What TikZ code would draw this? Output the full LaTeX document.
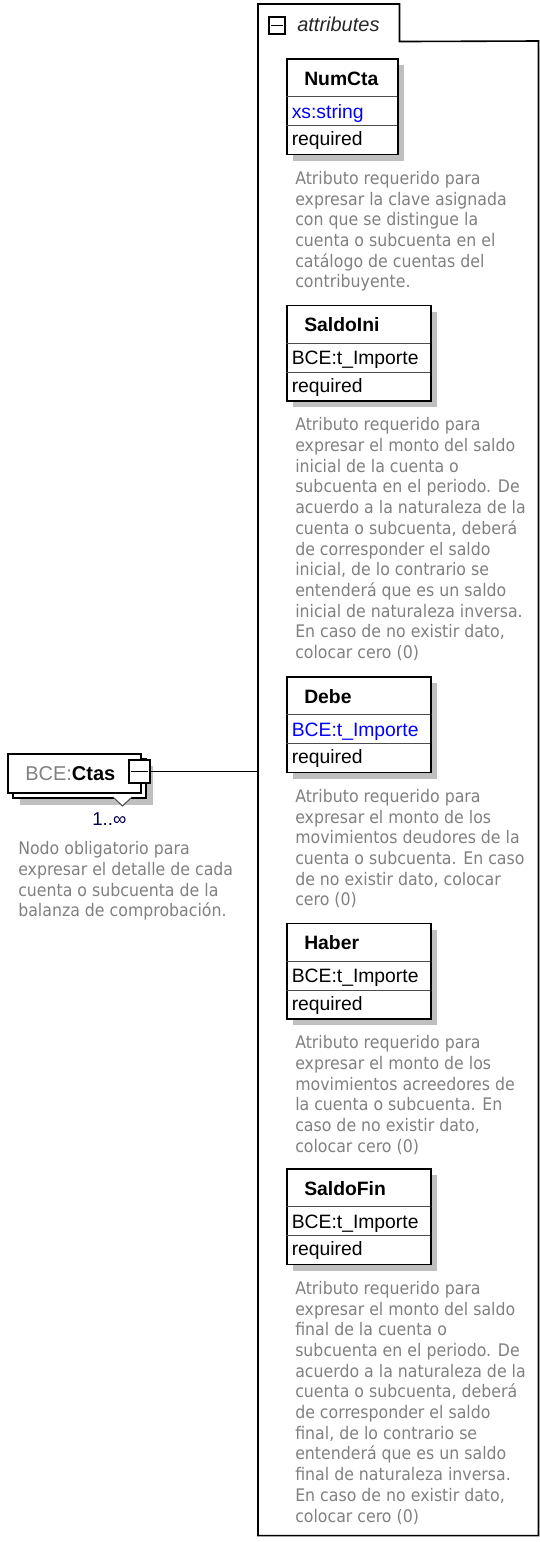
\documentclass[tikz,border=0pt]{standalone}
\usepackage{fontspec}
\setmainfont{Liberation Sans}
\newfontfamily\mdescfont[FakeStretch=0.91]{DejaVu Sans}
\def\mboxx{286}
\def\mshadow{7}
\def\mdesccolor{black!50}
\def\mshadowcolor{black!25}
\def\mtypecolor{blue}
\def\mmultcolor{blue!30!black}
\usetikzlibrary{calc}
\tikzset{
  boxframe/.style={draw=black, line width=1.2pt, fill=white, inner sep=0pt},
  groupline/.style={draw=black, line width=1.2pt},
  divider/.style={draw=black!70, line width=0.75pt},
  togglebox/.style={draw=black, line width=1.3pt, fill=white, inner sep=0pt},
  attrtitle/.style={font=\fontsize{14.5}{17}\selectfont\bfseries, inner sep=0pt, anchor=base west},
  attrcell/.style={font=\fontsize{14.5}{17}\selectfont, inner sep=0pt, anchor=base west},
  attrdesc/.style={font=\mdescfont\fontsize{13}{15.525}\selectfont, text=\mdesccolor, align=left, inner sep=0pt, anchor=north west},
}
% one attribute box: name, top, width, title, type, type colour
\def\mattrbox#1#2#3#4#5#6{%
  \fill[\mshadowcolor] (\mboxx+\mshadow,#2+\mshadow) rectangle ++(#3,95.5);
  \node[boxframe, anchor=north west, minimum width={#3*0.75pt}, minimum height={95.5*0.75pt}] (#1) at (\mboxx,#2) {};
  \draw[divider] (#1.north west) ++(0,38.5) -- ++(#3,0);
  \draw[divider] (#1.north west) ++(0,67.5) -- ++(#3,0);
  \node[attrtitle] (#1-name) at (\mboxx+18,#2+27) {#4};
  \node[attrcell, text=#6] (#1-type) at (\mboxx+5.5,#2+60) {#5};
  \node[attrcell] (#1-use) at (\mboxx+5.5,#2+87.5) {required};
}

\begin{document}
\begin{tikzpicture}[x=0.75pt, y=-0.75pt]
	\useasboundingbox (0,0) rectangle (539,1542);
	% attributes group
	\path (258,41) node[anchor=north west, inner sep=0pt, minimum width={280*0.75pt}, minimum height={1494*0.75pt}] (attrs) {};
	\path (258,4) node[anchor=north west, inner sep=0pt, minimum width={141*0.75pt}, minimum height={37*0.75pt}] (attrtab) {};
	\draw[groupline] (attrs.south west) -- (attrtab.north west) -- (attrtab.north east) -- (attrtab.south east) -- (attrs.north east) -- (attrs.south east) -- cycle;
	\node[togglebox, minimum width={16*0.75pt}, minimum height={17*0.75pt}] (attrtoggle) at (277,25.5) {};
	\draw[line width=1.1pt] ([xshift=2.5pt]attrtoggle.west) -- ([xshift=-2.5pt]attrtoggle.east);
	\node[anchor=base west, inner sep=0pt, font=\fontsize{15}{18}\selectfont\itshape, text=black!85] (attrlabel) at (297,31) {attributes};

	\mattrbox{numcta}{58}{111}{NumCta}{xs:string}{\mtypecolor}
	\node[attrdesc] (numcta-desc) at (295,170.9) {Atributo requerido para\\expresar la clave asignada\\con que se distingue la\\cuenta o subcuenta en el\\catálogo de cuentas del\\contribuyente.};

	\mattrbox{saldoini}{304.5}{144}{SaldoIni}{BCE:t\_Importe}{black}
	\node[attrdesc] (saldoini-desc) at (295,417.4) {Atributo requerido para\\expresar el monto del saldo\\inicial de la cuenta o\\subcuenta en el periodo. De\\acuerdo a la naturaleza de la\\cuenta o subcuenta, deberá\\de corresponder el saldo\\inicial, de lo contrario se\\entenderá que es un saldo\\inicial de naturaleza inversa.\\En caso de no existir dato,\\colocar cero (0)};

	\mattrbox{debe}{676}{144}{Debe}{BCE:t\_Importe}{\mtypecolor}
	\node[attrdesc] (debe-desc) at (295,788.9) {Atributo requerido para\\expresar el monto de los\\movimientos deudores de la\\cuenta o subcuenta. En caso\\de no existir dato, colocar\\cero (0)};

	\mattrbox{haber}{922.5}{144}{Haber}{BCE:t\_Importe}{black}
	\node[attrdesc] (haber-desc) at (295,1035.4) {Atributo requerido para\\expresar el monto de los\\movimientos acreedores de\\la cuenta o subcuenta. En\\caso de no existir dato,\\colocar cero (0)};

	\mattrbox{saldofin}{1168}{144}{SaldoFin}{BCE:t\_Importe}{black}
	\node[attrdesc] (saldofin-desc) at (295,1280.9) {Atributo requerido para\\expresar el monto del saldo\\final de la cuenta o\\subcuenta en el periodo. De\\acuerdo a la naturaleza de la\\cuenta o subcuenta, deberá\\de corresponder el saldo\\final, de lo contrario se\\entenderá que es un saldo\\final de naturaleza inversa.\\En caso de no existir dato,\\colocar cero (0)};

	% BCE:Ctas element
	\fill[\mshadowcolor] (20,766) rectangle (153,805);
	\node[boxframe, anchor=north west, minimum width={133*0.75pt}, minimum height={39*0.75pt}] (ctasback) at (12,758) {};
	\node[boxframe, anchor=north west, minimum width={133*0.75pt}, minimum height={39*0.75pt}] (ctas) at (7,753) {};
	\draw[fill=white, draw=black!70, line width=0.75pt] (113,797) -- (122.5,806) -- (132,797);
	\node[anchor=base west, inner sep=0pt, font=\fontsize{15}{18}\selectfont] (ctasname) at (25,780) {\textcolor{black!50}{BCE:}\textbf{Ctas}};
	\node[togglebox, minimum width={21*0.75pt}, minimum height={23*0.75pt}] (ctastoggle) at (139.5,771.5) {};
	\draw[line width=1.1pt] ([xshift=2.5pt]ctastoggle.west) -- ([xshift=-2.5pt]ctastoggle.east);
	\draw[groupline] (ctastoggle.east) -- (ctastoggle.east -| attrs.west);
	\node[anchor=base west, inner sep=0pt, font=\fontsize{14}{17}\selectfont, text=\mmultcolor] (ctasmult) at (92,825) {1..∞};
	\node[attrdesc] (ctas-desc) at (18,841.4) {Nodo obligatorio para\\expresar el detalle de cada\\cuenta o subcuenta de la\\balanza de comprobación.};
\end{tikzpicture}
\end{document}
